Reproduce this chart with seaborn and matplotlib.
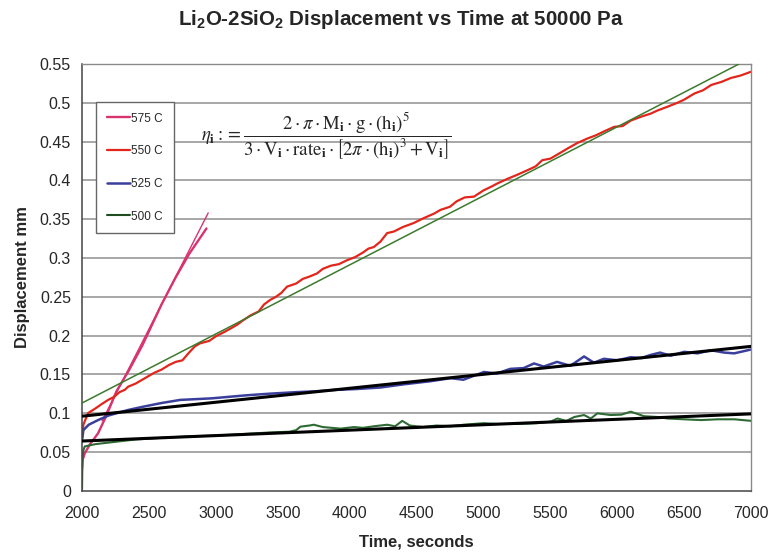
import matplotlib
matplotlib.use('Agg')
import matplotlib.pyplot as plt
import seaborn as sns

# 575 C
t_575 = [2000, 2005, 2020, 2060, 2120, 2180, 2257, 2350, 2450, 2594, 2700, 2800, 2930]
d_575 = [0.028, 0.040, 0.048, 0.060, 0.074, 0.096, 0.128, 0.155, 0.187, 0.240, 0.275, 0.305, 0.338]
fit_t_575 = [2150, 2943]
fit_d_575 = [0.090, 0.358]

# 550 C
t_550 = [2000, 2010, 2045, 2100, 2150, 2195, 2240, 2280, 2320, 2344, 2400, 2450, 2500, 2540,
         2594, 2650, 2700, 2750, 2800, 2843, 2883, 2950, 3000, 3068, 3120, 3160, 3207, 3260,
         3320, 3360, 3407, 3450, 3490, 3532, 3600, 3650, 3700, 3756, 3800, 3860, 3920, 3980,
         4040, 4100, 4140, 4180, 4230, 4280, 4330, 4400, 4479, 4550, 4629, 4680, 4750, 4800,
         4860, 4929, 5000, 5060, 5104, 5180, 5250, 5328, 5390, 5440, 5500, 5560, 5628, 5700,
         5778, 5840, 5900, 5978, 6040, 6100, 6177, 6250, 6300, 6377, 6450, 6500, 6577, 6640,
         6703, 6780, 6850, 6920, 7000]
d_550 = [0.068, 0.085, 0.100, 0.106, 0.112, 0.117, 0.121, 0.127, 0.130, 0.134, 0.138, 0.143,
         0.148, 0.152, 0.156, 0.162, 0.166, 0.168, 0.178, 0.186, 0.190, 0.193, 0.199, 0.205,
         0.210, 0.214, 0.220, 0.226, 0.231, 0.240, 0.246, 0.250, 0.255, 0.263, 0.267, 0.273,
         0.276, 0.280, 0.286, 0.290, 0.292, 0.297, 0.301, 0.307, 0.312, 0.314, 0.321, 0.332,
         0.334, 0.340, 0.345, 0.351, 0.357, 0.362, 0.366, 0.373, 0.378, 0.379, 0.387, 0.392,
         0.396, 0.402, 0.407, 0.413, 0.418, 0.426, 0.428, 0.434, 0.441, 0.448, 0.454, 0.458,
         0.463, 0.469, 0.470, 0.477, 0.482, 0.486, 0.490, 0.495, 0.500, 0.504, 0.512, 0.516,
         0.523, 0.527, 0.532, 0.535, 0.540]
fit_t_550 = [2000, 6910]
fit_d_550 = [0.113, 0.550]

# 525 C
t_525 = [2000, 2010, 2050, 2120, 2200, 2344, 2450, 2594, 2734, 2968, 3100, 3233, 3400, 3600,
         3732, 3900, 4050, 4231, 4400, 4600, 4754, 4850, 5004, 5100, 5200, 5300, 5378, 5450,
         5550, 5650, 5752, 5826, 5900, 6002, 6100, 6180, 6250, 6320, 6400, 6500, 6600, 6700,
         6800, 6874, 6950, 7000]
d_525 = [0.065, 0.078, 0.085, 0.091, 0.097, 0.104, 0.108, 0.113, 0.117, 0.119, 0.121, 0.123,
         0.125, 0.127, 0.128, 0.130, 0.131, 0.133, 0.137, 0.141, 0.145, 0.143, 0.153, 0.151,
         0.157, 0.158, 0.164, 0.160, 0.166, 0.161, 0.173, 0.165, 0.170, 0.168, 0.172, 0.171,
         0.175, 0.178, 0.174, 0.179, 0.177, 0.181, 0.178, 0.177, 0.180, 0.182]
fit_t_525 = [2000, 7000]
fit_d_525 = [0.096, 0.186]

# 500 C
t_500 = [2000, 2003, 2010, 2020, 2100, 2250, 2400, 2584, 2800, 3000, 3200, 3400, 3550, 3600,
         3632, 3700, 3732, 3800, 3932, 4032, 4100, 4180, 4281, 4340, 4393, 4450, 4550, 4650,
         4754, 4850, 5004, 5100, 5253, 5400, 5503, 5553, 5620, 5680, 5752, 5802, 5852, 5951,
         6030, 6101, 6150, 6200, 6300, 6377, 6500, 6627, 6750, 6876, 7000]
d_500 = [0.002, 0.040, 0.052, 0.057, 0.060, 0.063, 0.066, 0.068, 0.070, 0.071, 0.073, 0.075,
         0.076, 0.078, 0.0825, 0.084, 0.085, 0.082, 0.080, 0.082, 0.081, 0.083, 0.085, 0.083,
         0.090, 0.084, 0.082, 0.084, 0.083, 0.085, 0.087, 0.086, 0.086, 0.087, 0.089, 0.093,
         0.090, 0.095, 0.0975, 0.093, 0.0997, 0.0975, 0.098, 0.1018, 0.099, 0.096, 0.095,
         0.093, 0.092, 0.091, 0.092, 0.092, 0.090]
fit_t_500 = [2000, 7000]
fit_d_500 = [0.064, 0.099]

x_ticks = [2000, 2500, 3000, 3500, 4000, 4500, 5000, 5500, 6000, 6500, 7000]
y_ticks = [0, 0.05, 0.1, 0.15, 0.2, 0.25, 0.3, 0.35, 0.4, 0.45, 0.5, 0.55]
y_tick_labels = ['0', '0.05', '0.1', '0.15', '0.2', '0.25', '0.3', '0.35', '0.4', '0.45', '0.5', '0.55']

sns.set_style('white')
plt.rcParams['font.family'] = ['Liberation Sans', 'DejaVu Sans']
plt.rcParams['mathtext.fontset'] = 'custom'
plt.rcParams['mathtext.bf'] = 'Liberation Sans:bold'
plt.rcParams['mathtext.rm'] = 'Liberation Sans'

fig = plt.figure(figsize=(7.71, 5.55), dpi=100)
ax = fig.add_axes([0.1064, 0.1159, 0.8677, 0.7688])

for y in y_ticks[1:]:
    ax.axhline(y, color='#8f8f8f', lw=1.1, zorder=0)

# fit lines
sns.lineplot(x=fit_t_575, y=fit_d_575, color='#d8336e', lw=1.0, ax=ax, legend=False)
sns.lineplot(x=fit_t_550, y=fit_d_550, color='#3d7a2e', lw=1.1, ax=ax, legend=False, zorder=4)

# data
sns.lineplot(x=t_575, y=d_575, color='#d8336e', lw=1.7, ax=ax, label='575 C', sort=False)
sns.lineplot(x=t_550, y=d_550, color='#e2261c', lw=1.6, ax=ax, label='550 C', sort=False)
sns.lineplot(x=t_525, y=d_525, color='#3b3f9c', lw=1.8, ax=ax, label='525 C', sort=False)
sns.lineplot(x=t_500, y=d_500, color='#2e6a33', lw=1.5, ax=ax, label='500 C', sort=False)

sns.lineplot(x=fit_t_525, y=fit_d_525, color='black', lw=2.2, ax=ax, legend=False, zorder=5)
sns.lineplot(x=fit_t_500, y=fit_d_500, color='black', lw=2.2, ax=ax, legend=False, zorder=5)

ax.set_xlim(2000, 7000)
ax.set_ylim(0, 0.55)
ax.set_xticks(x_ticks)
ax.set_xticklabels([str(v) for v in x_ticks], fontsize=11.5)
ax.set_yticks(y_ticks)
ax.set_yticklabels(y_tick_labels, fontsize=11.5)
ax.tick_params(axis='both', direction='out', length=4, width=1, color='#555555', pad=4)
ax.tick_params(axis='x', pad=7)

for side in ['left', 'bottom']:
    ax.spines[side].set_color('#444444')
    ax.spines[side].set_linewidth(1.1)
for side in ['top', 'right']:
    ax.spines[side].set_color('#8a8a8a')
    ax.spines[side].set_linewidth(1.0)

ax.set_xlabel('Time, seconds', fontsize=12, fontweight='bold', labelpad=10)
ax.set_ylabel('Displacement mm', fontsize=12, fontweight='bold', labelpad=7)

leg = ax.legend(loc='upper left', bbox_to_anchor=(0.021, 0.911), fontsize=8.5,
                handlelength=2.0, handletextpad=0.1, labelspacing=1.75,
                borderpad=0.9, borderaxespad=0, fancybox=False, framealpha=1,
                edgecolor='#666666')
leg.get_frame().set_linewidth(1.0)
leg.get_lines()[3].set_color('#1f4d1f')

fig.text(0.52, 0.964, r'Li$_\mathbf{2}$O-2SiO$_\mathbf{2}$ Displacement vs Time at 50000 Pa',
         ha='center', va='center', fontsize=14.8, fontweight='bold', math_fontfamily='custom')

formula = (r'$\eta_\mathbf{i} := \dfrac{2\cdot\pi\cdot\mathrm{M}_\mathbf{i}\cdot\mathrm{g}\cdot'
           r'\left(\mathrm{h}_\mathbf{i}\right)^5}{3\cdot\mathrm{V}_\mathbf{i}\cdot\mathrm{rate}_\mathbf{i}\cdot'
           r'\left[2\pi\cdot\left(\mathrm{h}_\mathbf{i}\right)^3 + \mathrm{V}_\mathbf{i}\right]}$')
fig.text(326 / 771, 1 - 136 / 555, formula, ha='center', va='center', fontsize=13.5,
         math_fontfamily='stix')

fig.savefig('out.png', dpi=100, facecolor='white')
